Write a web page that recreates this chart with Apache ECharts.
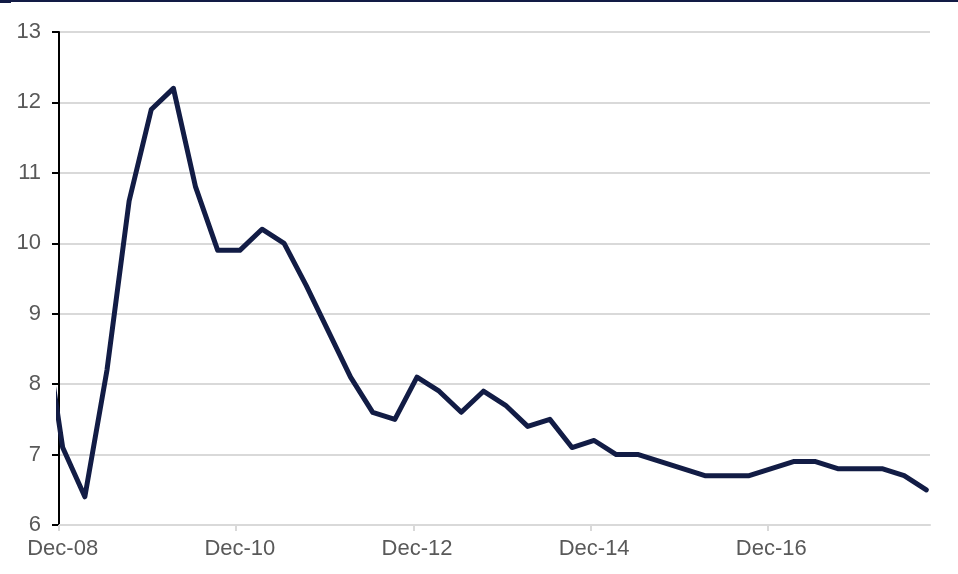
<!DOCTYPE html>
<html><head><meta charset="utf-8">
<script src="https://cdn.jsdelivr.net/npm/echarts@6/dist/echarts.min.js"></script>
<style>html,body{margin:0;padding:0;background:#fff}#c{width:958px;height:574px}</style>
</head><body><div id="c"></div>
<script>
// Quarterly observations (Sep-08 lies just left of the axis and is clipped)
const quarters = ['Sep-08','Dec-08','Mar-09','Jun-09','Sep-09','Dec-09','Mar-10','Jun-10','Sep-10','Dec-10',
  'Mar-11','Jun-11','Sep-11','Dec-11','Mar-12','Jun-12','Sep-12','Dec-12','Mar-13','Jun-13','Sep-13','Dec-13',
  'Mar-14','Jun-14','Sep-14','Dec-14','Mar-15','Jun-15','Sep-15','Dec-15','Mar-16','Jun-16','Sep-16','Dec-16',
  'Mar-17','Jun-17','Sep-17','Dec-17','Mar-18','Jun-18','Sep-18'];
const values = [9.2,7.1,6.4,8.2,10.6,11.9,12.2,10.8,9.9,9.9,
  10.2,10.0,9.4,8.75,8.1,7.6,7.5,8.1,7.9,7.6,7.9,7.7,
  7.4,7.5,7.1,7.2,7.0,7.0,6.9,6.8,6.7,6.7,6.7,6.8,
  6.9,6.9,6.8,6.8,6.8,6.7,6.5];
const tickLabels = ['Dec-08','Dec-10','Dec-12','Dec-14','Dec-16'];
const yMin = 6, yMax = 13, yStep = 1;

const startIdx = quarters.indexOf('Dec-08');
const monthOf = q => 3 * (quarters.indexOf(q) - startIdx);          // months since Dec-08
const lastMonth = monthOf(quarters[quarters.length - 1]);
const tickMonths = tickLabels.map(monthOf);                           // month boundaries
const labelMonths = tickMonths.map(m => m + 0.5);                     // month centres
// each point sits in the middle of its month band
const seriesData = quarters.map((q, i) => [monthOf(q) + 0.5, values[i]]);

const labelColor = '#595959';
const font = '"Liberation Sans", Arial, sans-serif';
const chart = echarts.init(document.getElementById('c'), null, {renderer: 'canvas'});
chart.setOption({
  animation: false,
  backgroundColor: '#ffffff',
  grid: {left: 59, right: 28, top: 32, bottom: 49, containLabel: false},
  xAxis: {
    type: 'value', min: 0, max: lastMonth + 1,
    axisLine: {show: true, onZero: false, lineStyle: {color: '#d9d9d9', width: 2}},
    axisTick: {show: true, customValues: tickMonths, length: 6, lineStyle: {color: '#d9d9d9', width: 2}},
    axisLabel: {customValues: labelMonths, color: labelColor, fontFamily: font, fontSize: 22, margin: 13,
      formatter: v => { const k = labelMonths.indexOf(v); return k >= 0 ? tickLabels[k] : ''; }},
    splitLine: {show: false}
  },
  yAxis: {
    type: 'value', min: yMin, max: yMax, interval: yStep,
    axisLine: {show: true, lineStyle: {color: '#000000', width: 2}},
    axisTick: {show: true, length: 7, lineStyle: {color: '#000000', width: 2}},
    axisLabel: {color: labelColor, fontFamily: font, fontSize: 22, margin: 18},
    splitLine: {show: true, lineStyle: {color: '#d9d9d9', width: 2}}
  },
  graphic: [
    {type: 'rect', left: 0, top: 0, shape: {width: 958, height: 2}, style: {fill: '#121b45'}, z: 10},
    {type: 'rect', left: 0, top: 0, shape: {width: 11, height: 3}, style: {fill: '#121b45'}, z: 10}
  ],
  series: [{
    type: 'line', data: seriesData, showSymbol: false, symbol: 'none',
    lineStyle: {color: '#121c45', width: 5, join: 'round', cap: 'round'},
    clip: true
  }]
});
</script></body></html>
